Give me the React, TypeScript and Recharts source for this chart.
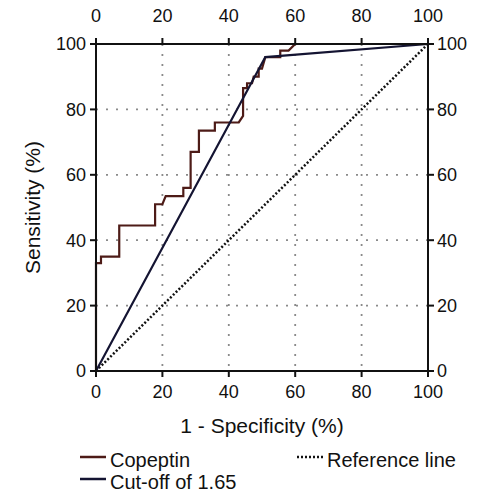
import React from "react";
import {
  LineChart,
  Line,
  XAxis,
  YAxis,
  CartesianGrid,
  Legend,
} from "recharts";

// Copeptin ROC step curve (1 - specificity, sensitivity)
const copeptinFpr = [0, 0, 1.5, 1.5, 7, 7, 17.8, 17.8, 20, 21, 26.3, 26.3, 28.5, 28.5, 31, 31, 35.8, 35.8, 41.5, 43, 44.3, 44.3, 45.5, 45.5, 47, 47.5, 49, 49, 50, 51, 55.5, 55.5, 58, 60, 100];
const copeptinTpr = [0, 33, 33, 35, 35, 44.5, 44.5, 51, 51, 53.5, 53.5, 56, 56, 67, 67, 73.5, 73.5, 76, 76, 76, 78, 86.5, 86.5, 88, 88, 90, 90, 92.5, 92.5, 96, 96, 98, 98, 100, 100];

// single cut-off point joined to the corners
const cutoffFpr = [0, 51, 100];
const cutoffTpr = [0, 96, 100];

const refFpr = [0, 100];
const refTpr = [0, 100];

const ticks = [0, 20, 40, 60, 80, 100];

const legendItems = [
  { name: "Copeptin", color: "#4d1b17", dash: undefined, left: 80, top: 0 },
  { name: "Reference line", color: "#111", dash: "2 2", left: 297, top: 0 },
  { name: "Cut-off of 1.65", color: "#141432", dash: undefined, left: 80, top: 21.5 },
];

const toPoints = (xs: number[], ys: number[]) => xs.map((x, i) => ({ x, y: ys[i] }));

const FONT = "'Liberation Sans', Arial, sans-serif";
const TICK = { fill: "#111", fontSize: 18, fontFamily: FONT };
const AXIS = { stroke: "#111", strokeWidth: 2 };

function TopTick(props: any) {
  const { x, y, payload } = props;
  return (
    <text x={x} y={y - 14} textAnchor="middle" fill="#111" fontSize={18} fontFamily={FONT}>
      {payload.value}
    </text>
  );
}

function ChartLegend() {
  return (
    <div style={{ position: "relative", width: 478, height: 43, fontFamily: FONT, fontSize: 20, color: "#111" }}>
      {legendItems.map((it) => (
        <div key={it.name} style={{ position: "absolute", left: it.left, top: it.top, display: "flex", alignItems: "center", height: 20, lineHeight: "20px" }}>
          <svg width={26} height={8} style={{ marginRight: 4, marginTop: -6 }}>
            <line x1={0} y1={4} x2={26} y2={4} stroke={it.color} strokeWidth={2.5} strokeDasharray={it.dash} />
          </svg>
          <span>{it.name}</span>
        </div>
      ))}
    </div>
  );
}

export default function App() {
  return (
    <div style={{ position: "absolute", left: 0, top: 0, width: 478, height: 493, background: "#fff" }}>
      <LineChart width={478} height={493} margin={{ top: 0, right: 0, bottom: 52, left: 0 }}>
        <CartesianGrid stroke="#8a8a8a" strokeWidth={1.8} strokeDasharray="2 8" />
        <XAxis
          type="number"
          dataKey="x"
          domain={[0, 100]}
          ticks={ticks}
          height={70}
          tick={TICK}
          tickSize={6}
          tickMargin={8}
          axisLine={AXIS}
          tickLine={AXIS}
          label={{ value: "1 - Specificity (%)", position: "insideBottom", offset: 8, style: { fill: "#111", fontSize: 21, fontFamily: FONT } }}
        />
        <XAxis
          xAxisId="top"
          orientation="top"
          type="number"
          dataKey="x"
          domain={[0, 100]}
          ticks={ticks}
          height={44}
          tick={<TopTick />}
          tickSize={6}
          tickMargin={2}
          axisLine={AXIS}
          tickLine={AXIS}
        />
        <YAxis
          type="number"
          domain={[0, 100]}
          ticks={ticks}
          width={96}
          tick={TICK}
          tickSize={6}
          tickMargin={4}
          axisLine={AXIS}
          tickLine={AXIS}
          label={{ value: "Sensitivity (%)", angle: -90, position: "insideLeft", offset: 33, style: { fill: "#111", fontSize: 21, fontFamily: FONT, textAnchor: "middle" } }}
        />
        <YAxis
          yAxisId="right"
          orientation="right"
          type="number"
          domain={[0, 100]}
          ticks={ticks}
          width={50}
          tick={TICK}
          tickSize={6}
          tickMargin={3}
          axisLine={AXIS}
          tickLine={AXIS}
        />
        {/* invisible series so the top and right axes get drawn */}
        <Line
          xAxisId="top"
          yAxisId="right"
          data={toPoints(refFpr, refTpr)}
          dataKey="y"
          stroke="none"
          legendType="none"
          dot={false}
          activeDot={false}
          isAnimationActive={false}
        />
        <Line
          data={toPoints(refFpr, refTpr)}
          dataKey="y"
          name="Reference line"
          stroke="#111"
          strokeWidth={2.5}
          strokeDasharray="2 2"
          dot={false}
          isAnimationActive={false}
        />
        <Line
          data={toPoints(copeptinFpr, copeptinTpr)}
          dataKey="y"
          name="Copeptin"
          stroke="#4d1b17"
          strokeWidth={2.2}
          dot={false}
          isAnimationActive={false}
        />
        <Line
          data={toPoints(cutoffFpr, cutoffTpr)}
          dataKey="y"
          name="Cut-off of 1.65"
          stroke="#141432"
          strokeWidth={2.2}
          dot={false}
          isAnimationActive={false}
        />
        <Legend
          layout="horizontal"
          verticalAlign="middle"
          content={() => <ChartLegend />}
          wrapperStyle={{ position: "absolute", left: 0, top: 450, width: 478, height: 43 }}
        />
      </LineChart>
    </div>
  );
}
